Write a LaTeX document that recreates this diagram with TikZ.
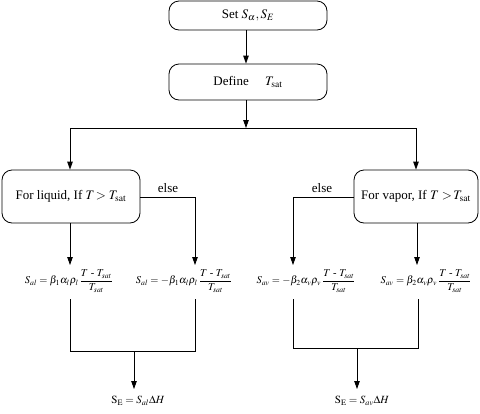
\documentclass[tikz,border=0pt]{standalone}
\usepackage{amsmath}
\usepackage{mathptmx}
\usepackage{fontspec}
\setmainfont{Liberation Serif}
\usetikzlibrary{arrows.meta}
\begin{document}
\begin{tikzpicture}[x=1pt,y=-1pt,
  box/.style={draw,line width=0.8pt,rounded corners=10pt,inner sep=0pt,align=center,font=\fontsize{13}{15}\selectfont},
  formula/.style={inner sep=0pt,font=\fontsize{10.5}{12}\selectfont},
  line/.style={line width=0.8pt},
  arr/.style={line width=0.8pt,-{Triangle[length=8pt,width=5.5pt]}},
  lbl/.style={inner sep=1pt,font=\fontsize{13}{15}\selectfont}]
\useasboundingbox (0,0) rectangle (480,413);
% boxes
\node[box,minimum width=158pt,minimum height=29pt] (set) at (248,15.5) {Set $S_\alpha,S_E$};
\node[box,minimum width=158pt,minimum height=36pt] (def) at (248,82) {Define\quad\ $T_{\mathrm{sat}}$};
\node[box,minimum width=138pt,minimum height=53pt] (liq) at (71,196.5) {For liquid, If $T\!>T_{\mathrm{sat}}$};
\node[box,minimum width=124pt,minimum height=53pt] (vap) at (416,196.5) {For vapor, If $T>\!T_{\mathrm{sat}}$};
% formulas
\node[formula] (f1) at (69,281) {$S_{al}=\beta_1\alpha_l\rho_l\,\dfrac{T\text{ - }T_{sat}}{T_{sat}}$};
\node[formula] (f2) at (184,281) {$S_{al}=-\beta_1\alpha_l\rho_l\,\dfrac{T\text{ - }T_{sat}}{T_{sat}}$};
\node[formula] (f3) at (306,281) {$S_{av}=-\beta_2\alpha_v\rho_v\,\dfrac{T\text{ - }T_{sat}}{T_{sat}}$};
\node[formula] (f4) at (426,281) {$S_{av}=\beta_2\alpha_v\rho_v\,\dfrac{T\text{ - }T_{sat}}{T_{sat}}$};
\node[formula,font=\fontsize{11}{13}\selectfont] (e1) at (138,401) {$\mathrm{S}_{\mathrm{E}}=S_{al}\Delta H$};
\node[formula,font=\fontsize{11}{13}\selectfont] (e2) at (362,401) {$\mathrm{S}_{\mathrm{E}}=S_{av}\Delta H$};
% coordinates
\coordinate (split) at (246,128);
\coordinate (sL) at (70,128);
\coordinate (sR) at (416,128);
\coordinate (elL) at (195,197);
\coordinate (elR) at (293,197);
\coordinate (t1) at (70,265);
\coordinate (t2) at (195,265);
\coordinate (t3) at (293,265);
\coordinate (t4) at (417,265);
\coordinate (b1) at (70,299);
\coordinate (b2) at (195,299);
\coordinate (b3) at (293,299);
\coordinate (b4) at (418,299);
\coordinate (c1) at (70,351);
\coordinate (c2) at (195,351);
\coordinate (c3) at (293,348);
\coordinate (c4) at (418,348);
\coordinate (m1) at (134,351);
\coordinate (m2) at (357,348);
\coordinate (q1) at (134,389);
\coordinate (q2) at (357,389);
% connectors
\draw[arr] (set.south -| split) -- (def.north -| split);
\draw[arr] (def.south -| split) -- (split);
\draw[line] (sL) -- (sR);
\draw[arr] (sL) -- (liq.north -| sL);
\draw[arr] (sR) -- (vap.north -| sR);
\draw[line] (liq.east |- elL) -- (elL);
\draw[arr] (elL) -- (t2);
\draw[line] (vap.west |- elR) -- (elR);
\draw[arr] (elR) -- (t3);
\draw[arr] (liq.south -| t1) -- (t1);
\draw[arr] (vap.south -| t4) -- (t4);
\node[lbl,anchor=south] at (168,194) {else};
\node[lbl,anchor=south] at (322,194) {else};
\draw[line] (b1) -- (c1) -- (c2) -- (b2);
\draw[line] (b3) -- (c3) -- (c4) -- (b4);
\draw[arr] (m1) -- (q1);
\draw[arr] (m2) -- (q2);
\end{tikzpicture}
\end{document}
